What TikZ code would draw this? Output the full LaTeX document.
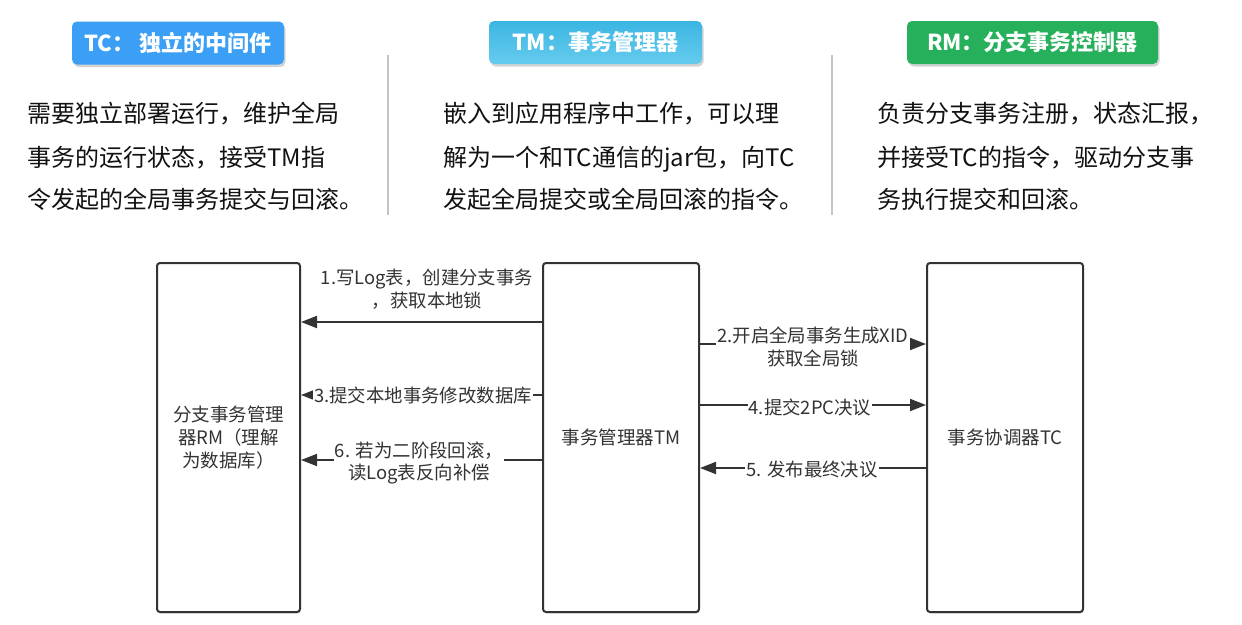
\documentclass[tikz,border=0pt]{standalone}
\usepackage{fontspec}
\setmainfont{Noto Sans CJK SC}
\usetikzlibrary{arrows.meta,shadows}
\definecolor{tcblue}{HTML}{3A9FF5}
\definecolor{tmtop}{HTML}{3BB6E2}
\definecolor{tmbot}{HTML}{66CBEE}
\definecolor{rmgreen}{HTML}{26B05B}
\definecolor{boxline}{HTML}{333333}
\definecolor{txt}{HTML}{333333}
\definecolor{para}{HTML}{111111}
\definecolor{sepc}{HTML}{C4C4C4}
\begin{document}
\begin{tikzpicture}[x=1pt,y=-1pt,
  badge/.style={rounded corners=5pt, minimum height=43pt, inner sep=0pt, text=white,
    font=\bfseries\fontsize{22}{26}\selectfont,
    drop shadow={opacity=0.35,shadow xshift=1.5pt,shadow yshift=-2.5pt}},
  paraline/.style={anchor=base west, inner sep=0pt, text=para, font=\fontsize{24}{28}\selectfont},
  blk/.style={draw=boxline, line width=2pt, rounded corners=3pt, fill=white, align=center,
    text=txt, font=\fontsize{18.5}{23}\selectfont,
    drop shadow={opacity=0.25,shadow xshift=0.8pt,shadow yshift=-1.5pt}},
  lbl/.style={align=center, text=txt, inner sep=1pt, font=\fontsize{18.4}{22.5}\selectfont},
  wlbl/.style={lbl, fill=white},
  arr/.style={draw=boxline, line width=1.8pt, -{Triangle[length=16pt,width=12pt]}},
  sepline/.style={draw=sepc, line width=1.5pt}
]
\useasboundingbox (0,0) rectangle (1242,624);

% badges
\node[badge, fill=tcblue, minimum width=212pt] (tcb) at (178,43) {TC：\ 独立的中间件};
\node[badge, top color=tmtop, bottom color=tmbot, minimum width=213pt] (tmb) at (595.5,42.5) {TM：事务管理器};
\node[badge, fill=rmgreen, minimum width=251pt] (rmb) at (1032.5,42.5) {RM：分支事务控制器};

% separators
\draw[sepline] (388,55) -- (388,215);
\draw[sepline] (832,55) -- (832,215);

% paragraphs
\node[paraline] (p11) at (27,122) {需要独立部署运行，维护全局};
\node[paraline] (p12) at (27,166) {事务的运行状态，接受TM指};
\node[paraline] (p13) at (27,208) {令发起的全局事务提交与回滚。};
\node[paraline] (p21) at (443,122) {嵌入到应用程序中工作，可以理};
\node[paraline] (p22) at (443,166) {解为一个和TC通信的jar包，向TC};
\node[paraline] (p23) at (443,208) {发起全局提交或全局回滚的指令。};
\node[paraline] (p31) at (877,122) {负责分支事务注册，状态汇报，};
\node[paraline] (p32) at (877,166) {并接受TC的指令，驱动分支事};
\node[paraline] (p33) at (877,208) {务执行提交和回滚。};

% boxes
\node[blk, minimum width=143pt, minimum height=349pt] (rm) at (228.5,437.5) {分支事务管理\\器RM（理解\\为数据库）};
\node[blk, minimum width=156pt, minimum height=349pt] (tm) at (621,437.5) {事务管理器TM};
\node[blk, minimum width=156pt, minimum height=349pt] (tc) at (1005,437.5) {事务协调器TC};

% levels
\coordinate (y1) at (0,322);
\coordinate (y2) at (0,344);
\coordinate (y3) at (0,395);
\coordinate (y4) at (0,405);
\coordinate (y6) at (0,460);
\coordinate (y5) at (0,468);

% arrows
\draw[arr] (tm.west |- y1) -- (rm.east |- y1);
\node[lbl] (l1) at (427,289) {1.写Log表，创建分支事务\\，获取本地锁};

\draw[arr] (tm.west |- y3) -- (rm.east |- y3);
\node[wlbl] (l3) at (423,395) {3.提交本地事务修改数据库};

\draw[arr] (tm.west |- y6) -- (rm.east |- y6);
\node[wlbl] (l6) at (419,463) {6. 若为二阶段回滚，\\读Log表反向补偿};

\draw[arr] (tm.east |- y2) -- (tc.west |- y2);
\node[wlbl] (l2) at (813,347) {2.开启全局事务生成XID\\获取全局锁};

\draw[arr] (tm.east |- y4) -- (tc.west |- y4);
\node[wlbl] (l4) at (810,407) {4.提交2PC决议};

\draw[arr] (tc.west |- y5) -- (tm.east |- y5);
\node[wlbl] (l5) at (812,470) {5. 发布最终决议};
\end{tikzpicture}
\end{document}
